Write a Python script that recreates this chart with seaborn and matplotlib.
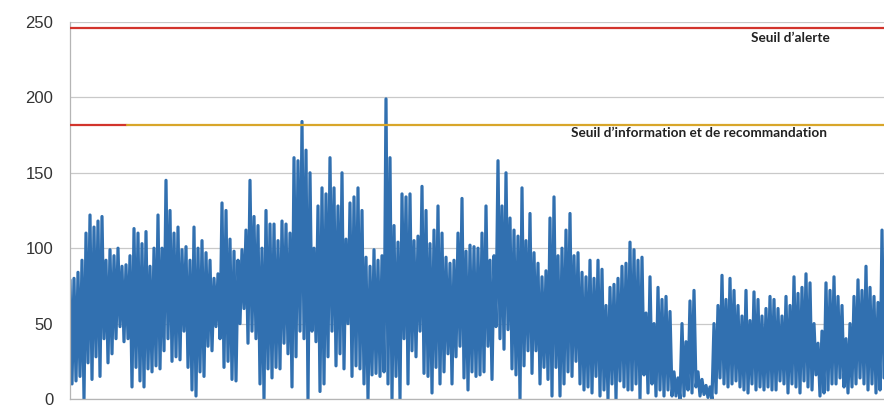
import matplotlib

matplotlib.use("Agg")

import matplotlib.pyplot as plt
import matplotlib.transforms as mtransforms
import pandas as pd
import seaborn as sns

# daily highs / lows, left to right
peaks = [
    79, 80, 84, 92, 110, 122, 114, 118, 121, 92, 99, 95, 100, 88, 89, 95, 113, 110, 103, 111, 88, 100, 122, 100, 145, 125,
    110, 114, 99, 101, 92, 114, 100, 105, 97, 92, 80, 83, 130, 125, 106, 98, 92, 99, 112, 145, 121, 115, 100, 125, 116,
    116, 105, 118, 116, 110, 160, 158, 184, 165, 150, 100, 128, 140, 136, 160, 140, 128, 150, 106, 130, 134, 140, 125, 94, 88,
    99, 92, 95, 199, 160, 115, 104, 136, 134, 136, 105, 108, 141, 125, 103, 112, 128, 110, 94, 90, 92, 110, 133, 98, 102,
    101, 100, 110, 128, 92, 95, 158, 128, 150, 120, 112, 108, 140, 105, 123, 97, 90, 81, 85, 120, 134, 95, 100, 112, 123,
    95, 97, 84, 81, 92, 80, 92, 86, 62, 74, 76, 80, 88, 90, 104, 99, 92, 94, 57, 81, 50, 74, 66, 68, 58,
    18, 14, 50, 38, 65, 72, 18, 13, 9, 8, 50, 62, 82, 66, 80, 72, 62, 55, 72, 52, 71, 66, 55, 60, 68,
    66, 60, 55, 68, 62, 81, 70, 74, 83, 77, 50, 37, 45, 77, 72, 81, 68, 62, 40, 50, 68, 79, 72, 88, 74, 68, 64, 112,
]
troughs = [
    10, 12, 15, 0, 24, 13, 28, 15, 40, 24, 30, 40, 48, 38, 40, 8, 21, 12, 8, 20, 18, 22, 20, 32, 40, 25,
    28, 26, 45, 21, 6, 2, 18, 15, 35, 32, 48, 40, 21, 25, 13, 12, 50, 60, 37, 45, 40, 10, 0, 20, 14,
    21, 20, 37, 30, 8, 28, 45, 40, 0, 45, 38, 5, 10, 28, 45, 22, 30, 20, 50, 15, 22, 20, 10, 0, 16,
    17, 15, 18, 10, 0, 15, 0, 40, 10, 32, 28, 45, 17, 15, 4, 21, 10, 18, 30, 10, 28, 35, 14, 6, 18,
    15, 16, 18, 35, 13, 48, 40, 33, 46, 20, 16, 0, 22, 32, 17, 32, 10, 21, 13, 2, 21, 2, 10, 18, 15,
    25, 10, 6, 8, 4, 15, 2, 6, 0, 10, 0, 12, 8, 6, 6, 10, 0, 16, 4, 10, 2, 6, 2, 6, 2,
    2, 0, 2, 6, 4, 8, 2, 3, 1, 0, 4, 14, 10, 8, 10, 12, 8, 6, 4, 10, 6, 8, 6, 8, 6,
    6, 12, 10, 4, 10, 8, 4, 12, 8, 6, 16, 2, 4, 6, 10, 10, 14, 8, 4, 8, 10, 14, 10, 6, 10, 4, 6, 14,
]

alert_level = 246
info_level = 182
alert_label = "Seuil d\u2019alerte"
info_label = "Seuil d\u2019information et de recommandation"
y_ticks = [0, 50, 100, 150, 200, 250]

values = []
for hi, lo in zip(peaks, troughs):
    values += [hi, lo]
df = pd.DataFrame({"t": range(len(values)), "value": values})

sns.set_theme(style="whitegrid")
plt.rcParams["font.family"] = ["Liberation Sans", "DejaVu Sans"]

fig = plt.figure(figsize=(8.84, 4.05), dpi=100)
# plot area: x 70..884 px, y 22..399 px
ax = fig.add_axes([70 / 884, 6 / 405, 814 / 884, 377 / 405])

sns.lineplot(data=df, x="t", y="value", ax=ax, color="#3170b0", linewidth=2.3, estimator=None)

ax.axhline(alert_level, color="#d2342c", linewidth=1.6, zorder=3)
ax.axhline(info_level, xmin=0, xmax=0.07, color="#d2342c", linewidth=1.6, zorder=3)
ax.axhline(info_level, xmin=0.07, xmax=1, color="#d8a62a", linewidth=1.6, zorder=3)

trans = mtransforms.blended_transform_factory(ax.transAxes, ax.transData)
ax.text(0.837, 239.5, alert_label, transform=trans, fontsize=9.8, fontweight="bold",
        family=["Lato", "DejaVu Sans"], color="#222222", va="center", ha="left")
ax.text(0.615, 176.5, info_label, transform=trans, fontsize=9.8, fontweight="bold",
        family=["Lato", "DejaVu Sans"], color="#222222", va="center", ha="left")

ax.set_xlim(0, len(values) - 1)
ax.set_ylim(0, 250)
ax.set_yticks(y_ticks)
ax.set_xticks([])
ax.set_xlabel("")
ax.set_ylabel("")
ax.tick_params(axis="y", labelsize=12, colors="#333333", pad=12, length=0)
ax.grid(axis="y", color="#c9c9c9", linewidth=0.9)
ax.grid(axis="x", visible=False)
for side in ["top", "right"]:
    ax.spines[side].set_visible(False)
ax.spines["left"].set_color("#b5b5b5")
ax.spines["bottom"].set_color("#b5b5b5")
ax.spines["left"].set_linewidth(0.9)
ax.spines["bottom"].set_linewidth(0.9)

fig.savefig("out.png", dpi=100)
